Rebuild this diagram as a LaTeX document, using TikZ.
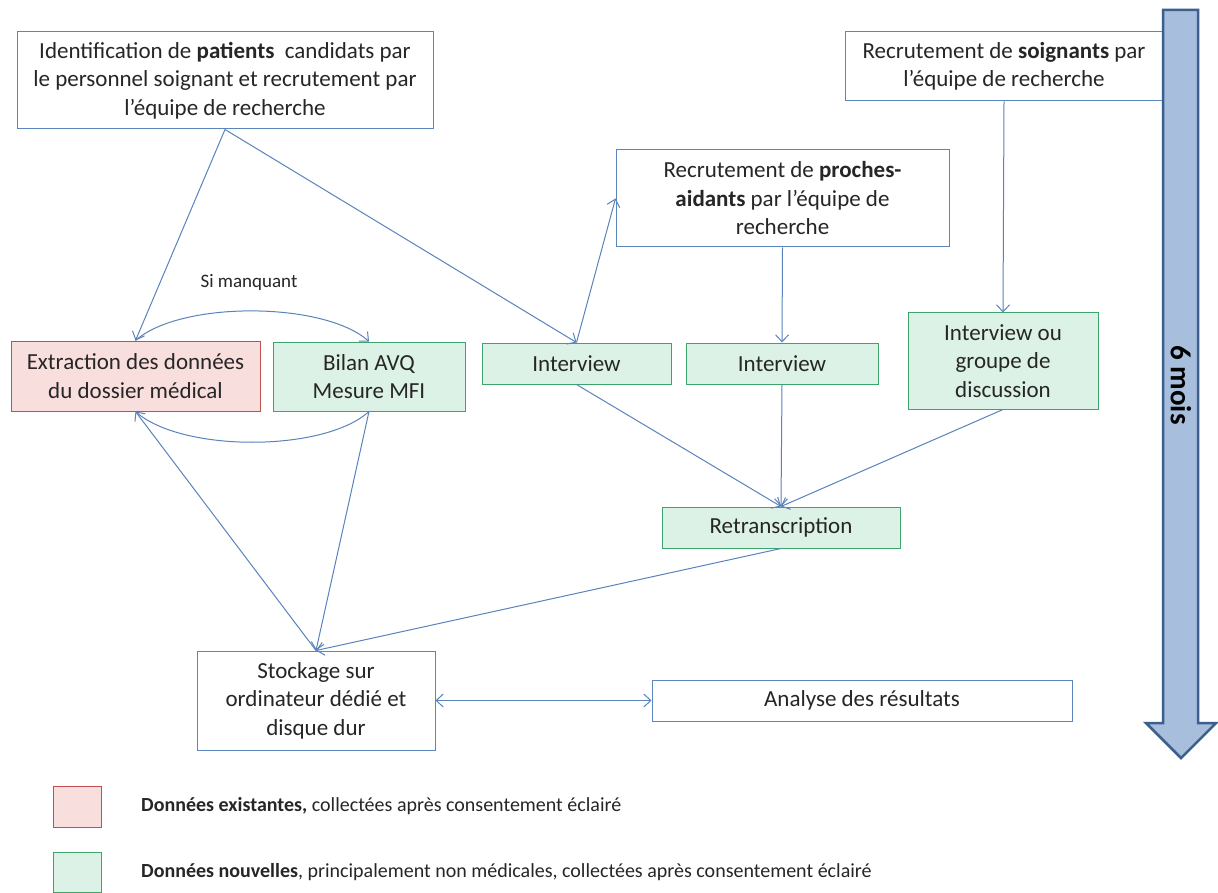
\documentclass[tikz,border=0pt]{standalone}
\usepackage{fontspec}
\setmainfont{Carlito}
\usetikzlibrary{arrows.meta,calc}
\definecolor{linecol}{HTML}{5A83BC}
\definecolor{bordblue}{HTML}{5B86BD}
\definecolor{greenfill}{HTML}{DDF2E6}
\definecolor{greenline}{HTML}{3DA56B}
\definecolor{redfill}{HTML}{F9DEDE}
\definecolor{redline}{HTML}{C0504D}
\definecolor{txt}{HTML}{262626}
\definecolor{timefill}{HTML}{A7BEDD}
\definecolor{timeline}{HTML}{3D5F8E}
\begin{document}
\begin{tikzpicture}[x=1pt,y=-1pt,
  box/.style={draw=bordblue, fill=white, line width=1pt, inner sep=0pt,
    align=center, text=txt, font=\fontsize{23}{28.5}\selectfont},
  newdata/.style={box, draw=greenline, fill=greenfill},
  olddata/.style={box, draw=redline, fill=redfill},
  tip/.tip={Straight Barb[length=7pt,width=13pt]},
  conn/.style={draw=linecol, line width=1pt, -tip},
  plain/.style={draw=linecol, line width=1pt},
  legtext/.style={anchor=west, inner sep=0pt, text=txt, font=\fontsize{20}{24}\selectfont}]
\useasboundingbox (0,0) rectangle (1218,893);
\fill[white] (0,0) rectangle (1218,893);

% recruitment boxes
\node[box, minimum width=416, minimum height=97] (pat) at (225,80.5)
  {Identification de \textbf{patients}\ \ candidats par\\ le personnel soignant et recrutement par\\ l’équipe de recherche};
\node[box, minimum width=318, minimum height=69] (soi) at (1004,66.5)
  {Recrutement de \textbf{soignants} par\\ l’équipe de recherche};
\node[box, minimum width=333, minimum height=97] (pro) at (782.5,198.5)
  {Recrutement de \textbf{proches-}\\ \textbf{aidants} par l’équipe de\\ recherche};

% data collection
\node[olddata, minimum width=249, minimum height=70] (ext) at (135.5,376)
  {Extraction des données\\ du dossier médical};
\node[newdata, minimum width=192, minimum height=69] (bil) at (369,376.5)
  {Bilan AVQ\\ Mesure MFI};
\node[newdata, minimum width=189, minimum height=41] (int1) at (576.5,363.5) {Interview};
\node[newdata, minimum width=192, minimum height=41] (int2) at (782,363.5) {Interview};
\node[newdata, minimum width=190, minimum height=96] (grp) at (1003,361)
  {Interview ou\\ groupe de\\ discussion};
\node[newdata, minimum width=238, minimum height=41] (ret) at (781,527.5) {Retranscription};

% storage and analysis
\node[box, minimum width=238, minimum height=99] (sto) at (316,700.5)
  {Stockage sur\\ ordinateur dédié et\\ disque dur};
\node[box, minimum width=420, minimum height=41] (ana) at (862,700.5) {Analyse des résultats};

% connectors
\draw[conn] (pat.south) -- (ext.north);
\draw[conn] (pat.south) -- (int1.north);
\draw[conn] (int1.north) -- (pro.west);
\draw[conn] (pro.south) -- (int2.north);
\draw[conn] (soi.south) -- (grp.north);
\draw[conn] (int1.south) -- (ret.north);
\draw[conn] (int2.south) -- (ret.north);
\draw[conn] (grp.south) -- (ret.north);
\draw[conn] (ret.south) -- (sto.north);
\draw[conn] (bil.south) -- (sto.north);
\draw[conn] (sto.north) -- (ext.south);
\draw[conn, tip-tip] (sto.east) -- (ana.west);

% "if missing" loop between the two patient data sources
\draw[conn] (ext.north) .. controls ($(ext.north)+(45,-40)$) and ($(bil.north)+(-45,-40)$) .. (bil.north);
\draw[plain] (bil.south) .. controls ($(bil.south)+(-45,41)$) and ($(ext.south)+(45,41)$) .. (ext.south);
\node[inner sep=0pt, text=txt, font=\fontsize{19}{23}\selectfont] (miss) at (249,282) {Si manquant};

% time line
\draw[fill=timefill, draw=timeline, line width=2.5pt, line join=miter]
  (1163,10) -- (1198,10) -- (1198,723) -- (1216,723) -- (1181,758)
  -- (1146,723) -- (1163,723) -- cycle;
\node[rotate=-90, inner sep=0pt, text=black, font=\bfseries\fontsize{29}{34}\selectfont] (dur) at (1181,385) {6 mois};

% legend
\node[olddata, minimum width=48, minimum height=41] (leg1) at (77,806.5) {};
\node[newdata, minimum width=48, minimum height=40] (leg2) at (77,872) {};
\node[legtext] (leg1t) at (141,806) {\textbf{Données existantes,} collectées après consentement éclairé};
\node[legtext] (leg2t) at (141,872) {\textbf{Données nouvelles}, principalement non médicales, collectées après consentement éclairé};
\end{tikzpicture}
\end{document}
